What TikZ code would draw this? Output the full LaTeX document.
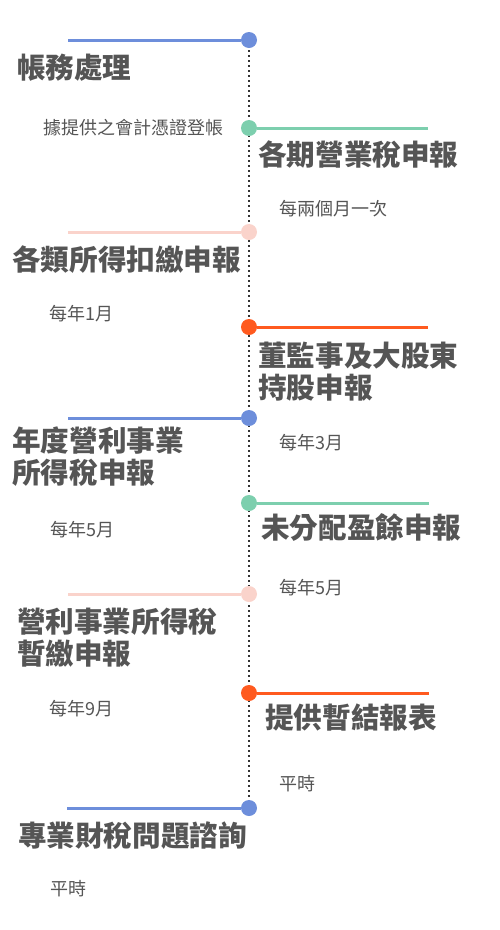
\documentclass[tikz,border=0pt]{standalone}
\usepackage{fontspec}
\setmainfont{Noto Sans CJK TC}
\usetikzlibrary{backgrounds}
\definecolor{cblue}{HTML}{6D8EDB}
\definecolor{cgreen}{HTML}{7DCFAE}
\definecolor{cpink}{HTML}{FAD3CB}
\definecolor{corange}{HTML}{FF5A1F}
\definecolor{txt}{HTML}{555555}
\definecolor{spinec}{HTML}{333333}
\begin{document}
\begin{tikzpicture}[x=1pt,y=-1pt,
  dotc/.style={circle,fill=#1,minimum size=16pt,inner sep=0pt},
  arm/.style={draw=#1,line width=3pt},
  ttl/.style={anchor=west,inner sep=0pt,text=txt,font=\bfseries\fontsize{28.6}{32}\selectfont,align=left},
  subt/.style={anchor=west,inner sep=0pt,text=txt,font=\fontsize{18}{20}\selectfont},
]
\useasboundingbox (0,0) rectangle (500,930);

% circles
\node[dotc=cblue]   (c1) at (249,40) {};
\node[dotc=cgreen]  (c2) at (249,128) {};
\node[dotc=cpink]   (c3) at (249,232) {};
\node[dotc=corange] (c4) at (249,327) {};
\node[dotc=cblue]   (c5) at (249,418) {};
\node[dotc=cgreen]  (c6) at (249,503) {};
\node[dotc=cpink]   (c7) at (249,594) {};
\node[dotc=corange] (c8) at (249,693) {};
\node[dotc=cblue]   (c9) at (249,808) {};

% arm ends
\coordinate (e1) at (68,40);
\coordinate (e2) at (428,128);
\coordinate (e3) at (68,232);
\coordinate (e4) at (428,327);
\coordinate (e5) at (68,418);
\coordinate (e6) at (429,503);
\coordinate (e7) at (68,594);
\coordinate (e8) at (429,693);
\coordinate (e9) at (67,808);

\begin{pgfonlayer}{background}
\draw[spinec,line width=2pt,dash pattern=on 2pt off 3pt] (c1.center) -- (c9.center);
\draw[arm=cblue]   (c1) -- (e1);
\draw[arm=cgreen]  (c2) -- (e2);
\draw[arm=cpink]   (c3) -- (e3);
\draw[arm=corange] (c4) -- (e4);
\draw[arm=cblue]   (c5) -- (e5);
\draw[arm=cgreen]  (c6) -- (e6);
\draw[arm=cpink]   (c7) -- (e7);
\draw[arm=corange] (c8) -- (e8);
\draw[arm=cblue]   (c9) -- (e9);
\end{pgfonlayer}

% titles
\node[ttl] (t1) at (17,68) {帳務處理};
\node[ttl] (t2) at (258,155) {各期營業稅申報};
\node[ttl] (t3) at (12,260) {各類所得扣繳申報};
\node[ttl] (t4) at (258,372) {董監事及大股東\\持股申報};
\node[ttl] (t5) at (12,457) {年度營利事業\\所得稅申報};
\node[ttl] (t6) at (261,527) {未分配盈餘申報};
\node[ttl] (t7) at (17,638) {營利事業所得稅\\暫繳申報};
\node[ttl] (t8) at (265,718) {提供暫結報表};
\node[ttl] (t9) at (18,836) {專業財稅問題諮詢};

% subtitles
\node[subt] (s1) at (43,128) {據提供之會計憑證登帳};
\node[subt] (s2) at (279,209) {每兩個月一次};
\node[subt] (s3) at (49,314) {每年1月};
\node[subt] (s4) at (279,443) {每年3月};
\node[subt] (s5) at (50,530) {每年5月};
\node[subt] (s6) at (279,588) {每年5月};
\node[subt] (s7) at (49,709) {每年9月};
\node[subt] (s8) at (279,784) {平時};
\node[subt] (s9) at (50,889) {平時};
\end{tikzpicture}
\end{document}
